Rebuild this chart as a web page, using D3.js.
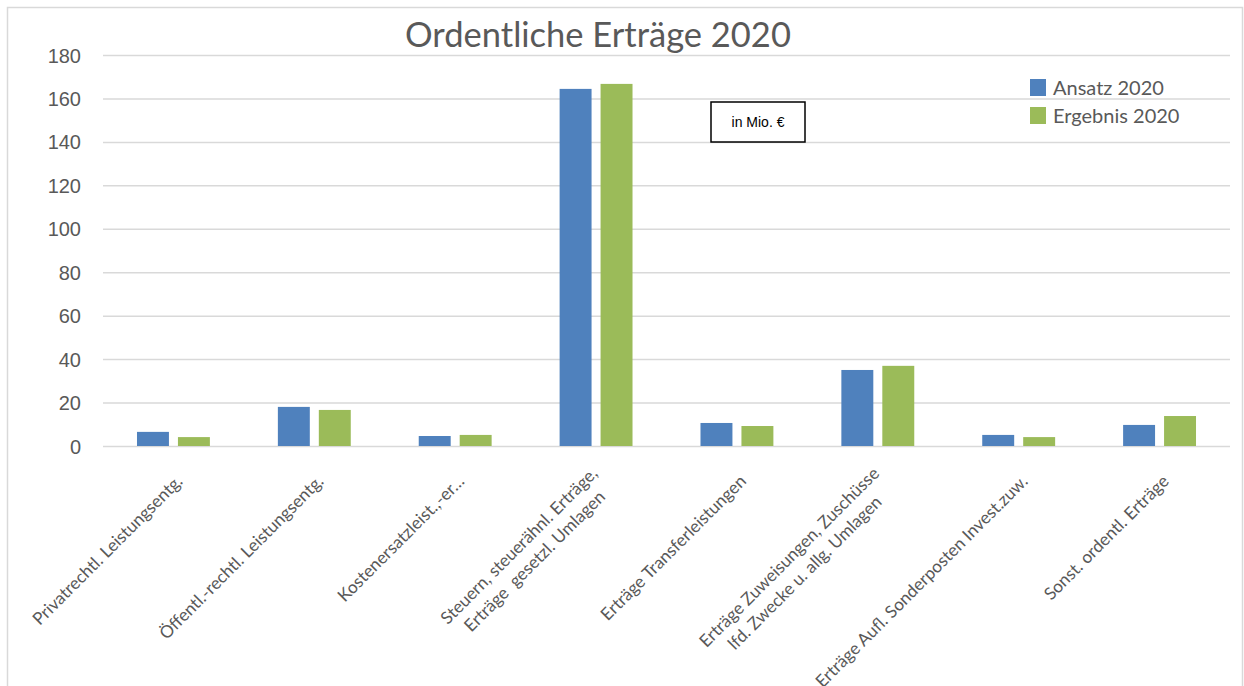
<!DOCTYPE html>
<html>
<head>
<meta charset="utf-8">
<script src="https://cdn.jsdelivr.net/npm/d3@7"></script>
<style>
  body { margin: 0; background: #fff; }
  svg { display: block; font-family: Lato, "Open Sans", sans-serif; }
  .grid line { stroke: #d9d9d9; stroke-width: 1.5; }
  .grid text { fill: #595959; font-size: 20px; }
  .cat { white-space: pre; }
</style>
</head>
<body>
<div class="chart"></div>
<script>
const categories = [
  "Privatrechtl. Leistungsentg.",
  "Öffentl.-rechtl. Leistungsentg.",
  "Kostenersatzleist.,-er…",
  "Steuern, steuerähnl. Erträge,\nErträge  gesetzl. Umlagen",
  "Erträge Transferleistungen",
  "Erträge Zuweisungen, Zuschüsse\nlfd. Zwecke u. allg. Umlagen",
  "Erträge Aufl. Sonderposten Invest.zuw.",
  "Sonst. ordentl. Erträge"
]
const seriesNames = ["Ansatz 2020", "Ergebnis 2020"]
const ansatz = [6.5, 18.0, 4.6, 164.4, 10.6, 35.0, 5.1, 9.7]
const ergebnis = [4.1, 16.6, 5.1, 166.7, 9.2, 36.9, 4.1, 13.8]
const yTicks = [0, 20, 40, 60, 80, 100, 120, 140, 160, 180]
const colors = ["#4f81bd", "#9bbb59"]

const width = 1244, height = 686
const plot = {left: 103, right: 1230, top: 55, bottom: 446}

let svg = d3.select(".chart").append("svg")
  .attr("width", width)
  .attr("height", height)

// outer chart frame
svg.append("rect")
  .attr("x", 7.5).attr("y", 7.5)
  .attr("width", 1235).attr("height", 700)
  .attr("fill", "none")
  .attr("stroke", "#d9d9d9")
  .attr("stroke-width", 1.5)

let x = d3.scaleBand().domain(categories).range([plot.left, plot.right])
let x1 = d3.scaleBand().domain(seriesNames).range([0, x.bandwidth()])
  .paddingInner(0.22).paddingOuter(0.83)
let y = d3.scaleLinear().domain([0, 180]).range([plot.bottom, plot.top])

let yaxis = svg.append("g")
  .attr("class", "grid")
  .attr("transform", "translate(" + plot.left + ",0)")
  .call(d3.axisLeft(y)
    .tickValues(yTicks)
    .tickSize(-(plot.right - plot.left))
    .tickPadding(22))
yaxis.select(".domain").remove()
yaxis.selectAll("text").attr("dy", "0.35em")

const rows = categories.map((c, i) => ({cat: c, values: [ansatz[i], ergebnis[i]]}))

let groups = svg.append("g").selectAll("g")
  .data(rows)
  .join("g")
  .attr("transform", d => "translate(" + x(d.cat) + ",0)")

groups.selectAll("rect")
  .data(d => d.values.map((v, j) => ({name: seriesNames[j], value: v, j: j})))
  .join("rect")
  .attr("x", d => x1(d.name))
  .attr("width", x1.bandwidth())
  .attr("y", d => y(d.value))
  .attr("height", d => y(0) - y(d.value))
  .attr("fill", d => colors[d.j])

// category labels, rotated -45deg, lines centred on each other
const lh = 22
categories.forEach(c => {
  let lines = c.split("\n")
  let cx = x(c) + x.bandwidth() / 2
  let g = svg.append("g")
    .attr("transform", "translate(" + (cx + 6) + "," + 478 + ") rotate(-45)")
  let texts = g.selectAll("text")
    .data(lines)
    .join("text")
    .attr("class", "cat")
    .attr("text-anchor", "middle")
    .attr("fill", "#595959")
    .attr("font-size", 17.2)
    .attr("dy", "0.35em")
    .text(d => d)
  let lens = texts.nodes().map(n => n.getComputedTextLength())
  let maxLen = d3.max(lens)
  texts.attr("x", -maxLen / 2)
    .attr("y", (d, i) => (i - (lines.length - 1) / 2) * lh)
})

// title
svg.append("text")
  .attr("x", 598).attr("y", 47)
  .attr("text-anchor", "middle")
  .attr("fill", "#595959")
  .attr("font-size", 34.5)
  .text("Ordentliche Erträge 2020")

// unit box
svg.append("rect")
  .attr("x", 711).attr("y", 102)
  .attr("width", 94).attr("height", 40)
  .attr("fill", "#fff")
  .attr("stroke", "#000")
  .attr("stroke-width", 1.5)
svg.append("text")
  .attr("x", 758).attr("y", 127)
  .attr("text-anchor", "middle")
  .attr("font-family", "'Liberation Sans', Arial, sans-serif")
  .attr("font-size", 14)
  .attr("fill", "#000")
  .text("in Mio. €")

// legend
let legend = svg.append("g").selectAll("g")
  .data(seriesNames)
  .join("g")
  .attr("transform", (d, i) => "translate(1030," + (79 + i * 28) + ")")
legend.append("rect")
  .attr("width", 16).attr("height", 17)
  .attr("fill", (d, i) => colors[i])
legend.append("text")
  .attr("x", 23).attr("y", 16)
  .attr("fill", "#595959")
  .attr("font-size", 20)
  .text(d => d)
</script>
</body>
</html>
